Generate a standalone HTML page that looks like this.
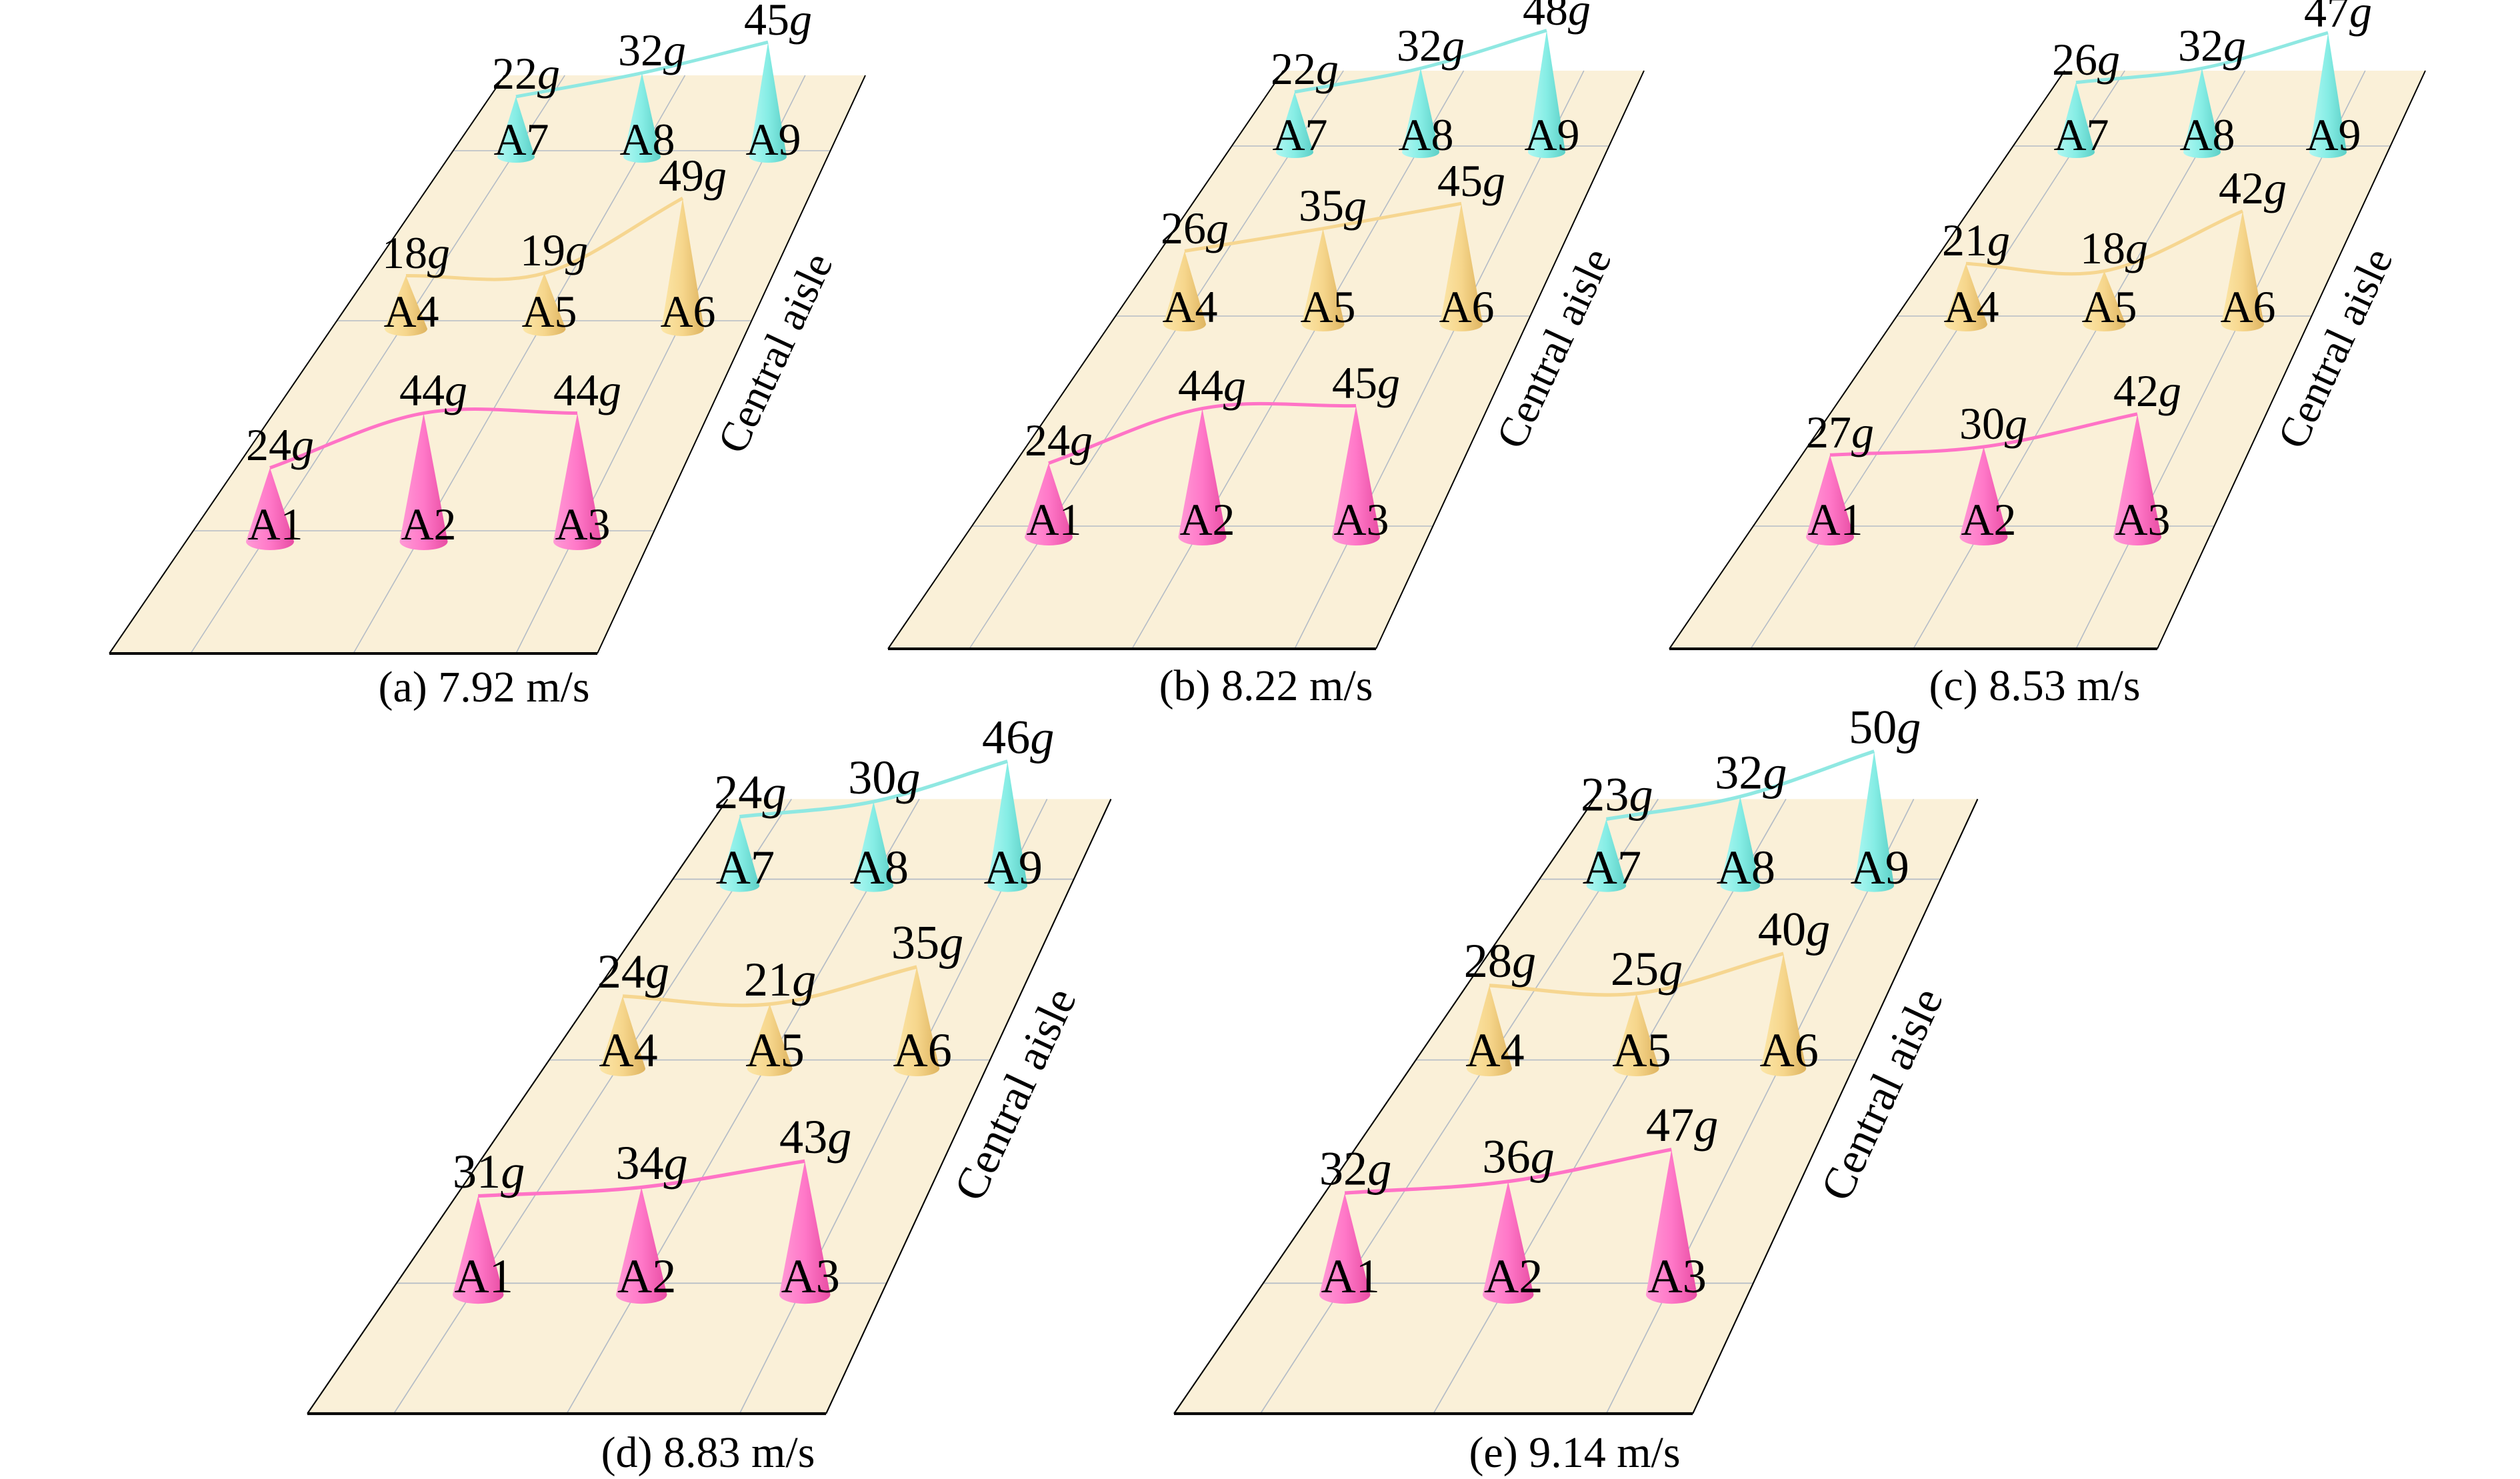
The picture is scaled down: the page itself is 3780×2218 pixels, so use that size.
<!DOCTYPE html>
<html><head><meta charset="utf-8"><style>
html,body{margin:0;padding:0;background:#fff;}
svg{display:block;font-family:"Liberation Serif","DejaVu Serif",serif;}
svg text{font-family:"Liberation Serif","DejaVu Serif",serif;fill:#000;}
.v{font-size:68px;text-anchor:middle;}
.a{font-size:68px;text-anchor:middle;}
.cap{font-size:66px;text-anchor:middle;}
.ca{font-size:64px;}
.pl{fill:#faf0d8;}
.gr{stroke:#b4bcc6;stroke-width:1.6;fill:none;}
.ed{stroke:#000;stroke-width:2;fill:none;}
.bt{stroke:#000;stroke-width:4;}
.c1{fill:url(#gp);} .c2{fill:url(#gy);} .c3{fill:url(#gc);}
.l1{stroke:#ff73c6;stroke-width:5;fill:none;}
.l2{stroke:#f6d690;stroke-width:5;fill:none;}
.l3{stroke:#8fe8e2;stroke-width:5;fill:none;}
</style></head><body>
<svg width="3780" height="2218" viewBox="0 0 3780 2218" xmlns="http://www.w3.org/2000/svg" font-family="Liberation Serif, DejaVu Serif, serif">
<defs>
<linearGradient id="gp" x1="0" y1="0" x2="1" y2="0"><stop offset="0" stop-color="#ff9ad6"/><stop offset="0.5" stop-color="#ff78c8"/><stop offset="1" stop-color="#e84da3"/></linearGradient>
<linearGradient id="gy" x1="0" y1="0" x2="1" y2="0"><stop offset="0" stop-color="#fce6a8"/><stop offset="0.5" stop-color="#f6d68c"/><stop offset="1" stop-color="#deb460"/></linearGradient>
<linearGradient id="gc" x1="0" y1="0" x2="1" y2="0"><stop offset="0" stop-color="#b0f8f2"/><stop offset="0.5" stop-color="#86ede5"/><stop offset="1" stop-color="#5ccfc6"/></linearGradient>
<g id="base">
<polygon class="pl" points="0,0 732,0 1134,-867 593,-867"/>
<line class="gr" x1="125.9" y1="-184" x2="817.4" y2="-184"/>
<line class="gr" x1="341.3" y1="-499" x2="963.5" y2="-499"/>
<line class="gr" x1="515.7" y1="-754" x2="1081.9" y2="-754"/>
<line class="gr" x1="122" y1="0" x2="683.2" y2="-867"/>
<line class="gr" x1="366" y1="0" x2="863.5" y2="-867"/>
<line class="gr" x1="610" y1="0" x2="1043.8" y2="-867"/>
<line class="ed" x1="0" y1="0" x2="593" y2="-867"/>
<line class="ed" x1="732" y1="0" x2="1134" y2="-867"/>
<line class="bt" x1="0" y1="0" x2="732" y2="0"/>
<text class="ca" transform="translate(950,-296) rotate(-65)">Central aisle</text>
</g>
</defs>

<!-- (a) -->
<g transform="translate(164,980)">
<use href="#base"/>
<path class="c1" d="M241,-278.4 L205,-168 A36 13 0 0 0 277,-168 Z"/>
<path class="c1" d="M471.5,-360.4 L435.5,-168 A36 13 0 0 0 507.5,-168 Z"/>
<path class="c1" d="M702,-360.4 L666,-168 A36 13 0 0 0 738,-168 Z"/>
<path class="c2" d="M445,-566.5 L413,-487 A32 11 0 0 0 477,-487 Z"/>
<path class="c2" d="M652.5,-570.3 L620.5,-487 A32 11 0 0 0 684.5,-487 Z"/>
<path class="c2" d="M860,-682.8 L828,-487 A32 11 0 0 0 892,-487 Z"/>
<path class="c3" d="M610,-835.1 L582,-745 A28 9 0 0 0 638,-745 Z"/>
<path class="c3" d="M799,-870.6 L771,-745 A28 9 0 0 0 827,-745 Z"/>
<path class="c3" d="M988,-916.8 L960,-745 A28 9 0 0 0 1016,-745 Z"/>
<path class="l1" d="M241,-278.4 C317.8,-305.7 394.7,-346.7 471.5,-360.4 C548.3,-374.1 625.2,-360.4 702,-360.4"/>
<path class="l2" d="M445,-566.5 C514.2,-567.8 583.3,-550.9 652.5,-570.3 C721.7,-589.7 790.8,-645.3 860,-682.8"/>
<path class="l3" d="M610,-835.1 C673,-846.9 736,-857 799,-870.6 C862,-884.2 925,-901.4 988,-916.8"/>
<text class="v" x="256" y="-290">24<tspan font-style="italic">g</tspan></text>
<text class="v" x="486" y="-372">44<tspan font-style="italic">g</tspan></text>
<text class="v" x="717" y="-372">44<tspan font-style="italic">g</tspan></text>
<text class="v" x="460" y="-578">18<tspan font-style="italic">g</tspan></text>
<text class="v" x="667" y="-582">19<tspan font-style="italic">g</tspan></text>
<text class="v" x="875" y="-694">49<tspan font-style="italic">g</tspan></text>
<text class="v" x="625" y="-847">22<tspan font-style="italic">g</tspan></text>
<text class="v" x="814" y="-882">32<tspan font-style="italic">g</tspan></text>
<text class="v" x="1003" y="-928">45<tspan font-style="italic">g</tspan></text>
<text class="a" x="249" y="-171">A1</text><text class="a" x="479" y="-171">A2</text><text class="a" x="710" y="-171">A3</text>
<text class="a" x="453" y="-490">A4</text><text class="a" x="660" y="-490">A5</text><text class="a" x="868" y="-490">A6</text>
<text class="a" x="618" y="-748">A7</text><text class="a" x="807" y="-748">A8</text><text class="a" x="996" y="-748">A9</text>
</g>
<text class="cap" x="726" y="1052">(a) 7.92 m/s</text>

<!-- (b) -->
<g transform="translate(1332,973)">
<use href="#base"/>
<path class="c1" d="M241,-278.4 L205,-168 A36 13 0 0 0 277,-168 Z"/>
<path class="c1" d="M471.5,-360.4 L435.5,-168 A36 13 0 0 0 507.5,-168 Z"/>
<path class="c1" d="M702,-364.5 L666,-168 A36 13 0 0 0 738,-168 Z"/>
<path class="c2" d="M445,-596.5 L413,-487 A32 11 0 0 0 477,-487 Z"/>
<path class="c2" d="M652.5,-630.3 L620.5,-487 A32 11 0 0 0 684.5,-487 Z"/>
<path class="c2" d="M860,-667.8 L828,-487 A32 11 0 0 0 892,-487 Z"/>
<path class="c3" d="M610,-835.1 L582,-745 A28 9 0 0 0 638,-745 Z"/>
<path class="c3" d="M799,-870.6 L771,-745 A28 9 0 0 0 827,-745 Z"/>
<path class="c3" d="M988,-927.4 L960,-745 A28 9 0 0 0 1016,-745 Z"/>
<path class="l1" d="M241,-278.4 C317.8,-305.7 394.7,-346.1 471.5,-360.4 C548.3,-374.8 625.2,-363.1 702,-364.5"/>
<path class="l2" d="M445,-596.5 C514.2,-607.8 583.3,-618.4 652.5,-630.3 C721.7,-642.2 790.8,-655.3 860,-667.8"/>
<path class="l3" d="M610,-835.1 C673,-846.9 736,-855.2 799,-870.6 C862,-886 925,-908.5 988,-927.4"/>
<text class="v" x="256" y="-290">24<tspan font-style="italic">g</tspan></text>
<text class="v" x="486" y="-372">44<tspan font-style="italic">g</tspan></text>
<text class="v" x="717" y="-376">45<tspan font-style="italic">g</tspan></text>
<text class="v" x="460" y="-608">26<tspan font-style="italic">g</tspan></text>
<text class="v" x="667" y="-642">35<tspan font-style="italic">g</tspan></text>
<text class="v" x="875" y="-679">45<tspan font-style="italic">g</tspan></text>
<text class="v" x="625" y="-847">22<tspan font-style="italic">g</tspan></text>
<text class="v" x="814" y="-882">32<tspan font-style="italic">g</tspan></text>
<text class="v" x="1003" y="-936">48<tspan font-style="italic">g</tspan></text>
<text class="a" x="249" y="-171">A1</text><text class="a" x="479" y="-171">A2</text><text class="a" x="710" y="-171">A3</text>
<text class="a" x="453" y="-490">A4</text><text class="a" x="660" y="-490">A5</text><text class="a" x="868" y="-490">A6</text>
<text class="a" x="618" y="-748">A7</text><text class="a" x="807" y="-748">A8</text><text class="a" x="996" y="-748">A9</text>
</g>
<text class="cap" x="1899" y="1050">(b) 8.22 m/s</text>

<!-- (c) -->
<g transform="translate(2504,973)">
<use href="#base"/>
<path class="c1" d="M241,-290.7 L205,-168 A36 13 0 0 0 277,-168 Z"/>
<path class="c1" d="M471.5,-303 L435.5,-168 A36 13 0 0 0 507.5,-168 Z"/>
<path class="c1" d="M702,-352.2 L666,-168 A36 13 0 0 0 738,-168 Z"/>
<path class="c2" d="M445,-577.8 L413,-487 A32 11 0 0 0 477,-487 Z"/>
<path class="c2" d="M652.5,-566.5 L620.5,-487 A32 11 0 0 0 684.5,-487 Z"/>
<path class="c2" d="M860,-656.5 L828,-487 A32 11 0 0 0 892,-487 Z"/>
<path class="c3" d="M610,-849.3 L582,-745 A28 9 0 0 0 638,-745 Z"/>
<path class="c3" d="M799,-870.6 L771,-745 A28 9 0 0 0 827,-745 Z"/>
<path class="c3" d="M988,-923.9 L960,-745 A28 9 0 0 0 1016,-745 Z"/>
<path class="l1" d="M241,-290.7 C317.8,-294.8 394.7,-292.8 471.5,-303 C548.3,-313.3 625.2,-335.8 702,-352.2"/>
<path class="l2" d="M445,-577.8 C514.2,-574 583.3,-553.4 652.5,-566.5 C721.7,-579.6 790.8,-626.5 860,-656.5"/>
<path class="l3" d="M610,-849.3 C673,-856.4 736,-858.2 799,-870.6 C862,-883 925,-906.1 988,-923.9"/>
<text class="v" x="256" y="-302">27<tspan font-style="italic">g</tspan></text>
<text class="v" x="486" y="-315">30<tspan font-style="italic">g</tspan></text>
<text class="v" x="717" y="-364">42<tspan font-style="italic">g</tspan></text>
<text class="v" x="460" y="-590">21<tspan font-style="italic">g</tspan></text>
<text class="v" x="667" y="-578">18<tspan font-style="italic">g</tspan></text>
<text class="v" x="875" y="-668">42<tspan font-style="italic">g</tspan></text>
<text class="v" x="625" y="-861">26<tspan font-style="italic">g</tspan></text>
<text class="v" x="814" y="-882">32<tspan font-style="italic">g</tspan></text>
<text class="v" x="1003" y="-933">47<tspan font-style="italic">g</tspan></text>
<text class="a" x="249" y="-171">A1</text><text class="a" x="479" y="-171">A2</text><text class="a" x="710" y="-171">A3</text>
<text class="a" x="453" y="-490">A4</text><text class="a" x="660" y="-490">A5</text><text class="a" x="868" y="-490">A6</text>
<text class="a" x="618" y="-748">A7</text><text class="a" x="807" y="-748">A8</text><text class="a" x="996" y="-748">A9</text>
</g>
<text class="cap" x="3052" y="1050">(c) 8.53 m/s</text>

<!-- (d) -->
<g transform="translate(461,2120) scale(1.063)">
<use href="#base"/>
<path class="c1" d="M241,-307.1 L205,-168 A36 13 0 0 0 277,-168 Z"/>
<path class="c1" d="M471.5,-319.4 L435.5,-168 A36 13 0 0 0 507.5,-168 Z"/>
<path class="c1" d="M702,-356.3 L666,-168 A36 13 0 0 0 738,-168 Z"/>
<path class="c2" d="M445,-589 L413,-487 A32 11 0 0 0 477,-487 Z"/>
<path class="c2" d="M652.5,-577.8 L620.5,-487 A32 11 0 0 0 684.5,-487 Z"/>
<path class="c2" d="M860,-630.3 L828,-487 A32 11 0 0 0 892,-487 Z"/>
<path class="c3" d="M610,-842.2 L582,-745 A28 9 0 0 0 638,-745 Z"/>
<path class="c3" d="M799,-863.5 L771,-745 A28 9 0 0 0 827,-745 Z"/>
<path class="c3" d="M988,-920.3 L960,-745 A28 9 0 0 0 1016,-745 Z"/>
<path class="l1" d="M241,-307.1 C317.8,-311.2 394.7,-311.2 471.5,-319.4 C548.3,-327.6 625.2,-344 702,-356.3"/>
<path class="l2" d="M445,-589 C514.2,-585.3 583.3,-570.9 652.5,-577.8 C721.7,-584.7 790.8,-612.8 860,-630.3"/>
<path class="l3" d="M610,-842.2 C673,-849.3 736,-850.5 799,-863.5 C862,-876.5 925,-901.4 988,-920.3"/>
<text class="v" x="256" y="-319">31<tspan font-style="italic">g</tspan></text>
<text class="v" x="486" y="-331">34<tspan font-style="italic">g</tspan></text>
<text class="v" x="717" y="-368">43<tspan font-style="italic">g</tspan></text>
<text class="v" x="460" y="-601">24<tspan font-style="italic">g</tspan></text>
<text class="v" x="667" y="-590">21<tspan font-style="italic">g</tspan></text>
<text class="v" x="875" y="-642">35<tspan font-style="italic">g</tspan></text>
<text class="v" x="625" y="-854">24<tspan font-style="italic">g</tspan></text>
<text class="v" x="814" y="-875">30<tspan font-style="italic">g</tspan></text>
<text class="v" x="1003" y="-932">46<tspan font-style="italic">g</tspan></text>
<text class="a" x="249" y="-171">A1</text><text class="a" x="479" y="-171">A2</text><text class="a" x="710" y="-171">A3</text>
<text class="a" x="453" y="-490">A4</text><text class="a" x="660" y="-490">A5</text><text class="a" x="868" y="-490">A6</text>
<text class="a" x="618" y="-748">A7</text><text class="a" x="807" y="-748">A8</text><text class="a" x="996" y="-748">A9</text>
</g>
<text class="cap" x="1062" y="2200">(d) 8.83 m/s</text>

<!-- (e) -->
<g transform="translate(1761,2120) scale(1.063)">
<use href="#base"/>
<path class="c1" d="M241,-311.2 L205,-168 A36 13 0 0 0 277,-168 Z"/>
<path class="c1" d="M471.5,-327.6 L435.5,-168 A36 13 0 0 0 507.5,-168 Z"/>
<path class="c1" d="M702,-372.7 L666,-168 A36 13 0 0 0 738,-168 Z"/>
<path class="c2" d="M445,-604 L413,-487 A32 11 0 0 0 477,-487 Z"/>
<path class="c2" d="M652.5,-592.8 L620.5,-487 A32 11 0 0 0 684.5,-487 Z"/>
<path class="c2" d="M860,-649 L828,-487 A32 11 0 0 0 892,-487 Z"/>
<path class="c3" d="M610,-838.7 L582,-745 A28 9 0 0 0 638,-745 Z"/>
<path class="c3" d="M799,-870.6 L771,-745 A28 9 0 0 0 827,-745 Z"/>
<path class="c3" d="M988,-934.5 L960,-745 A28 9 0 0 0 1016,-745 Z"/>
<path class="l1" d="M241,-311.2 C317.8,-316.7 394.7,-317.4 471.5,-327.6 C548.3,-337.9 625.2,-357.7 702,-372.7"/>
<path class="l2" d="M445,-604 C514.2,-600.3 583.3,-585.3 652.5,-592.8 C721.7,-600.3 790.8,-630.3 860,-649"/>
<path class="l3" d="M610,-838.7 C673,-849.3 736,-854.6 799,-870.6 C862,-886.6 925,-913.2 988,-934.5"/>
<text class="v" x="256" y="-323">32<tspan font-style="italic">g</tspan></text>
<text class="v" x="486" y="-340">36<tspan font-style="italic">g</tspan></text>
<text class="v" x="717" y="-385">47<tspan font-style="italic">g</tspan></text>
<text class="v" x="460" y="-616">28<tspan font-style="italic">g</tspan></text>
<text class="v" x="667" y="-605">25<tspan font-style="italic">g</tspan></text>
<text class="v" x="875" y="-661">40<tspan font-style="italic">g</tspan></text>
<text class="v" x="625" y="-851">23<tspan font-style="italic">g</tspan></text>
<text class="v" x="814" y="-882">32<tspan font-style="italic">g</tspan></text>
<text class="v" x="1003" y="-946">50<tspan font-style="italic">g</tspan></text>
<text class="a" x="249" y="-171">A1</text><text class="a" x="479" y="-171">A2</text><text class="a" x="710" y="-171">A3</text>
<text class="a" x="453" y="-490">A4</text><text class="a" x="660" y="-490">A5</text><text class="a" x="868" y="-490">A6</text>
<text class="a" x="618" y="-748">A7</text><text class="a" x="807" y="-748">A8</text><text class="a" x="996" y="-748">A9</text>
</g>
<text class="cap" x="2362" y="2200">(e) 9.14 m/s</text>
</svg>
</body></html>
